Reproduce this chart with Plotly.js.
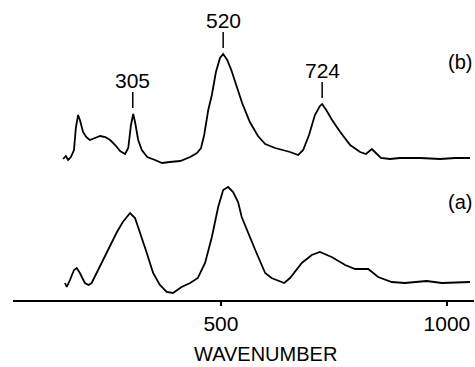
<!DOCTYPE html>
<html><head><meta charset="utf-8">
<script src="https://cdn.plot.ly/plotly-3.0.1.min.js"></script>
<style>html,body{margin:0;padding:0;background:#fff}#c{width:475px;height:367px}</style>
</head><body><div id="c"></div>
<script>
// Spectrum (a) – lower trace
const waveA = [155,159,166,175,181,188,199,207,214,225,239,255,270,283,299,310,321,336,350,365,380,394,413,432,449,465,480,494,505,516,527,538,546,560,576,598,612,640,653,679,701,719,745,775,797,826,848,878,907,955,989,1051];
const intA  = [17,13,20,30,32,27,17,15,17,27,40,53,68,78,87,82,68,47,27,15,8,7,13,17,22,37,63,93,110,113,108,98,83,67,50,27,22,17,22,37,45,48,43,35,31,31,23,18,17,19,17,18];
// Spectrum (b) – upper trace
const waveB = [151,157,162,168,175,179,184,188,195,202,210,221,233,244,255,266,277,288,295,301,306,310,317,325,337,354,370,387,410,432,447,456,463,472,480,489,498,505,514,523,534,547,564,582,598,620,653,671,682,695,708,719,724,733,746,764,786,808,821,834,843,854,874,896,941,985,1018,1051];
const intB  = [141,144,140,143,150,172,185,180,168,163,160,162,164,163,160,155,149,146,152,175,186,178,160,150,143,140,137,138,139,143,147,152,165,190,205,228,242,246,240,230,215,197,178,164,156,152,148,145,150,165,185,194,196,190,180,168,155,148,146,151,147,142,141,142,142,141,142,142];
// Peak labels
const peakText = ['305','520','724'];
const peakWave = [305,505,724];
const peakTop  = [186,246,196];
const traceNames = ['(a)','(b)'];
const traceLabelY = [98,238];
const xTickVals = [500,1000];
const xTickText = ['500','1000'];
const xTitle = 'WAVENUMBER';

const font = 'Liberation Sans, Arial, Helvetica, sans-serif';
const line = {color:'#000', width:1.8, shape:'linear'};
const data = [
  {x:waveA, y:intA, mode:'lines', line, hoverinfo:'skip'},
  {x:waveB, y:intB, mode:'lines', line, hoverinfo:'skip'}
];
const annotations = [];
const shapes = [];
peakText.forEach((t,i)=>{
  shapes.push({type:'line', xref:'x', yref:'y', x0:peakWave[i], x1:peakWave[i], y0:peakTop[i]+6, y1:peakTop[i]+22, line:{color:'#000', width:1.5}});
  annotations.push({x:peakWave[i], y:peakTop[i]+34, xref:'x', yref:'y', text:t, showarrow:false, xanchor:'center', yanchor:'middle', font:{family:font, size:21, color:'#000'}});
});
traceNames.forEach((t,i)=>{
  annotations.push({x:1029, y:traceLabelY[i], xref:'x', yref:'y', text:t, showarrow:false, xanchor:'center', yanchor:'middle', font:{family:font, size:20, color:'#000'}});
});
annotations.push({x:0.548, y:-0.18, xref:'paper', yref:'paper', text:xTitle, showarrow:false, xanchor:'center', yanchor:'middle', borderpad:0, font:{family:font, size:20, color:'#000'}});
const layout = {
  width:475, height:367,
  margin:{l:13, r:1, t:0, b:67},
  paper_bgcolor:'#fff', plot_bgcolor:'#fff',
  showlegend:false,
  xaxis:{range:[40,1060], showline:true, linecolor:'#000', linewidth:1.8, showgrid:false, zeroline:false,
         tickvals:xTickVals, ticktext:xTickText, ticks:'outside', ticklen:4, tickwidth:1.5, tickcolor:'#000',
         tickfont:{family:font, size:21, color:'#000'}},
  yaxis:{range:[0,300], visible:false, fixedrange:true},
  annotations, shapes
};
Plotly.newPlot('c', data, layout, {staticPlot:true, displayModeBar:false});
</script></body></html>
